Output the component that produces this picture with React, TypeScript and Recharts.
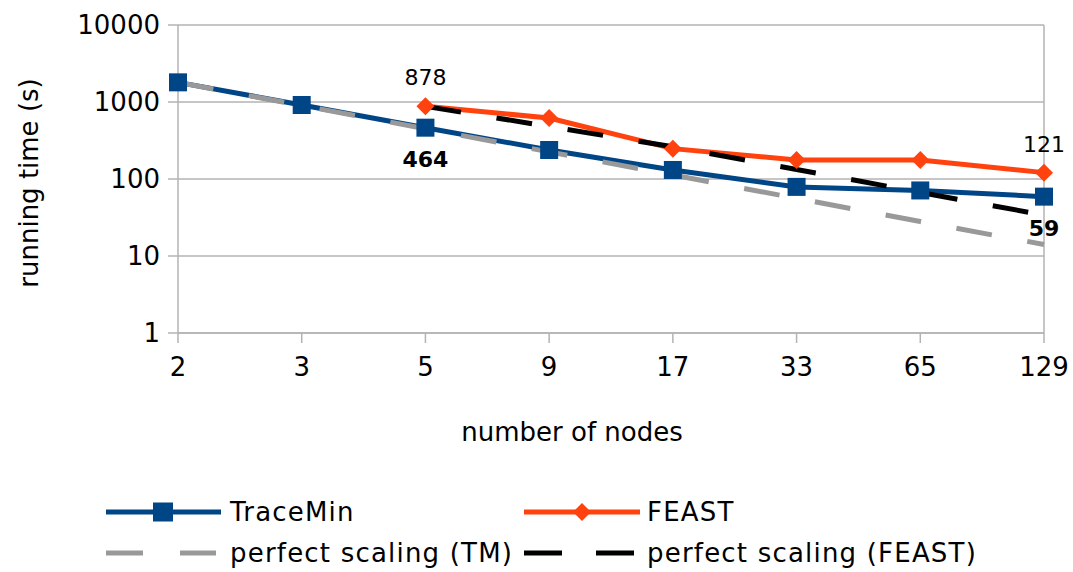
import React from "react";
import {
  LineChart,
  Line,
  XAxis,
  YAxis,
  CartesianGrid,
  Legend,
  LabelList,
  ReferenceLine,
  Label,
} from "recharts";

const nodes = ["2", "3", "5", "9", "17", "33", "65", "129"];
const traceMin = [1800, 914, 464, 238, 131, 79, 71, 59];
const feast = [null, null, 878, 620, 248, 177, 176, 121];
const perfectTM = [1800, 900, 450, 225, 113, 56, 28, 14.1];
const perfectFEAST = [null, null, 878, 480, 262, 133, 67, 34];
const yTicks = [1, 10, 100, 1000, 10000];
const tmLabeled = ["5", "129"];
const feastLabeled = ["5", "129"];

const FONT = "'DejaVu Sans', sans-serif";
const BLUE = "#004586";
const ORANGE = "#ff420e";
const GRAY = "#999999";
const GRID = "#b3b3b3";

const data = nodes.map((n, i) => ({
  nodes: n,
  traceMin: traceMin[i],
  feast: feast[i],
  perfectTM: perfectTM[i],
  perfectFEAST: perfectFEAST[i],
}));

const SquareDot = (props: any) => {
  const { cx, cy, index } = props;
  if (cx == null || cy == null) return <g key={index} />;
  return <rect key={index} x={cx - 9} y={cy - 9} width={18} height={18} fill={BLUE} />;
};

const DiamondDot = (props: any) => {
  const { cx, cy, index } = props;
  if (cx == null || cy == null) return <g key={index} />;
  return (
    <polygon
      key={index}
      points={`${cx},${cy - 9} ${cx + 9},${cy} ${cx},${cy + 9} ${cx - 9},${cy}`}
      fill={ORANGE}
    />
  );
};

const TmLabel = (props: any) => {
  const { x, y, value, index } = props;
  if (!tmLabeled.includes(nodes[index])) return null;
  return (
    <text x={x} y={y + 39} textAnchor="middle" fontFamily={FONT} fontSize={22} fontWeight="bold" fill="#000">
      {value}
    </text>
  );
};

const FeastLabel = (props: any) => {
  const { x, y, value, index } = props;
  if (!feastLabeled.includes(nodes[index]) || value == null) return null;
  return (
    <text x={x} y={y - 21} textAnchor="middle" fontFamily={FONT} fontSize={22} fill="#000">
      {value}
    </text>
  );
};

const YTitle = (props: any) => {
  const vb = props.viewBox || { x: 0, y: 25, width: 178, height: 308 };
  const cx = vb.x + 29;
  const cy = vb.y + vb.height / 2 + 4;
  return (
    <text
      x={cx}
      y={cy}
      transform={`rotate(-90, ${cx}, ${cy})`}
      textAnchor="middle"
      dominantBaseline="central"
      fontFamily={FONT}
      fontSize={26}
      fill="#000"
    >
      running time (s)
    </text>
  );
};

const XTitle = (props: any) => {
  const vb = props.viewBox || { x: 178, y: 333, width: 866, height: 110 };
  const cx = vb.x + vb.width / 2 - 39;
  const by = vb.y + 108;
  return (
    <text x={cx} y={by} textAnchor="middle" fontFamily={FONT} fontSize={26} fill="#000">
      number of nodes
    </text>
  );
};

const LegendContent = () => {
  const ts = { fontFamily: FONT, fontSize: 26, letterSpacing: 1.2, fill: "#000" } as any;
  return (
    <svg width={1073} height={84}>
      <line x1={106} y1={24} x2={221} y2={24} stroke={BLUE} strokeWidth={5} />
      <rect x={153} y={14.5} width={20} height={19} fill={BLUE} />
      <text x={230} y={24} dominantBaseline="central" {...ts}>TraceMin</text>

      <line x1={524} y1={24} x2={640} y2={24} stroke={ORANGE} strokeWidth={5} />
      <polygon points="582,15 591,24 582,33 573,24" fill={ORANGE} />
      <text x={647} y={24} dominantBaseline="central" {...ts}>FEAST</text>

      <line x1={106} y1={65} x2={143} y2={65} stroke={GRAY} strokeWidth={5} />
      <line x1={180} y1={65} x2={216} y2={65} stroke={GRAY} strokeWidth={5} />
      <text x={230} y={65} dominantBaseline="central" {...ts}>perfect scaling (TM)</text>

      <line x1={524} y1={65} x2={562} y2={65} stroke="#000" strokeWidth={5} />
      <line x1={596} y1={65} x2={634} y2={65} stroke="#000" strokeWidth={5} />
      <text x={647} y={65} dominantBaseline="central" {...ts}>perfect scaling (FEAST)</text>
    </svg>
  );
};

export default function App() {
  return (
    <div style={{ position: "absolute", left: 0, top: 0, background: "#fff", fontFamily: FONT }}>
      <LineChart
        width={1073}
        height={572}
        data={data}
        margin={{ top: 25, right: 29, bottom: 129, left: 0 }}
      >
        <CartesianGrid horizontal={true} vertical={false} stroke={GRID} strokeWidth={1.5} />
        <XAxis
          dataKey="nodes"
          type="category"
          height={110}
          interval={0}
          tickSize={10}
          tickMargin={15}
          axisLine={{ stroke: GRID, strokeWidth: 1.5 }}
          tickLine={{ stroke: GRID, strokeWidth: 1.5 }}
          tick={{ fontFamily: FONT, fontSize: 26, fill: "#000" }}
        >
          <Label content={<XTitle />} />
        </XAxis>
        <YAxis
          type="number"
          scale="log"
          domain={[1, 10000]}
          ticks={yTicks}
          allowDataOverflow
          width={178}
          tickSize={10}
          tickMargin={8}
          axisLine={{ stroke: GRID, strokeWidth: 1.5 }}
          tickLine={{ stroke: GRID, strokeWidth: 1.5 }}
          tick={{ fontFamily: FONT, fontSize: 26, fill: "#000" }}
        >
          <Label content={<YTitle />} />
        </YAxis>
        <ReferenceLine x="129" stroke={GRID} strokeWidth={1.5} />
        <Legend
          layout="horizontal"
          verticalAlign="middle"
          align="center"
          content={<LegendContent />}
          wrapperStyle={{ position: "absolute", left: 0, top: 488, width: 1073, height: 84 }}
        />
        <Line
          dataKey="traceMin"
          stroke={BLUE}
          strokeWidth={5}
          dot={<SquareDot />}
          activeDot={false}
          isAnimationActive={false}
        >
          <LabelList dataKey="traceMin" content={<TmLabel />} />
        </Line>
        <Line
          dataKey="feast"
          stroke={ORANGE}
          strokeWidth={5}
          dot={<DiamondDot />}
          activeDot={false}
          isAnimationActive={false}
        >
          <LabelList dataKey="feast" content={<FeastLabel />} />
        </Line>
        <Line
          dataKey="perfectTM"
          stroke={GRAY}
          strokeWidth={5}
          strokeDasharray="36 36"
          dot={false}
          activeDot={false}
          isAnimationActive={false}
        />
        <Line
          dataKey="perfectFEAST"
          stroke="#000"
          strokeWidth={5}
          strokeDasharray="36 36"
          dot={false}
          activeDot={false}
          isAnimationActive={false}
        />
      </LineChart>
    </div>
  );
}
